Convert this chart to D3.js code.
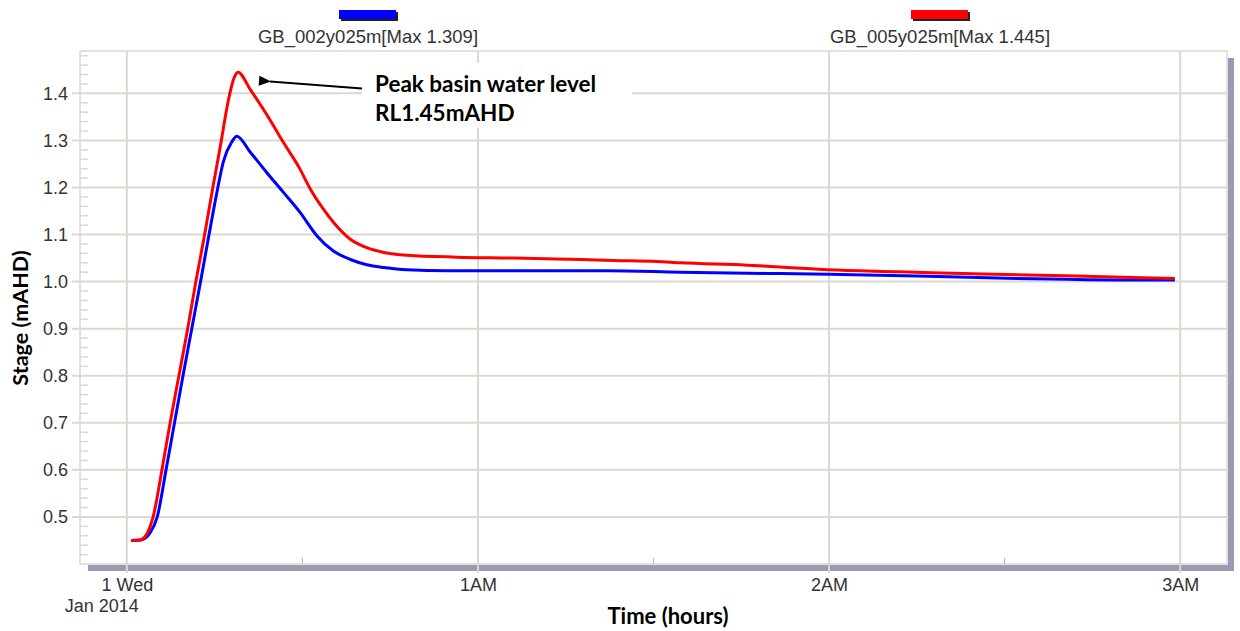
<!DOCTYPE html>
<html><head><meta charset="utf-8">
<script src="https://cdn.jsdelivr.net/npm/d3@7"></script>
<style>body{margin:0;background:#fff}</style>
</head><body>
<svg id="c" width="1240" height="631"></svg>
<script>
// ---- data ----
const seriesNames = ["GB_002y025m[Max 1.309]", "GB_005y025m[Max 1.445]"];
const seriesColors = ["#0000ff", "#ff0000"];
// minutes after 1 Jan 2014 00:00
const blueMinutes = [0.8, 2.4, 3.9, 5.2, 6.7, 8.15, 9.6, 11.1, 12.6, 14.05, 15.4, 16.5, 17.9, 18.8, 21.1, 23.9, 26.8, 29.6, 32.5, 35.3, 38.2, 41.0, 43.9, 47.9, 54.7, 82.0, 94.6, 111.6, 120.0, 135.0, 150.4, 160.6, 173.2, 179.1];
const blueStage   = [0.450, 0.451, 0.465, 0.500, 0.600, 0.700, 0.800, 0.900, 1.000, 1.100, 1.190, 1.255, 1.296, 1.309, 1.275, 1.232, 1.189, 1.147, 1.097, 1.065, 1.047, 1.036, 1.030, 1.025, 1.023, 1.023, 1.020, 1.017, 1.0155, 1.012, 1.007, 1.005, 1.0035, 1.0035];
const redMinutes  = [0.7, 2.3, 3.6, 4.5, 6.0, 7.4, 8.9, 10.4, 11.8, 13.3, 14.7, 15.9, 17.4, 18.3, 19.0, 21.1, 23.9, 26.8, 29.6, 31.3, 33.6, 35.3, 38.2, 41.0, 43.9, 47.9, 56.4, 66.1, 73.5, 83.2, 90.6, 94.6, 106.0, 111.6, 119.8, 132.1, 146.3, 160.6, 172.0, 179.1];
const redStage    = [0.450, 0.451, 0.468, 0.500, 0.600, 0.700, 0.800, 0.900, 1.000, 1.100, 1.200, 1.282, 1.388, 1.432, 1.445, 1.408, 1.355, 1.295, 1.239, 1.198, 1.154, 1.126, 1.090, 1.072, 1.062, 1.056, 1.052, 1.050, 1.048, 1.045, 1.043, 1.040, 1.035, 1.031, 1.025, 1.021, 1.016, 1.0125, 1.009, 1.0065];
const yTicks = [0.5, 0.6, 0.7, 0.8, 0.9, 1.0, 1.1, 1.2, 1.3, 1.4];
const xTickHours = [0, 1, 2, 3];
const xTickLabels = ["1 Wed", "1AM", "2AM", "3AM"];
const xMinorHours = [0.5, 1.5, 2.5];
const xSubLabel = "Jan 2014";
const yTitle = "Stage (mAHD)";
const xTitle = "Time (hours)";
const noteLines = ["Peak basin water level", "RL1.45mAHD"];

// ---- layout ----
const L = 80, R = 1227, T = 51, B = 564;
const t0 = new Date(2014, 0, 1, 0, 0, 0);
const toDate = m => new Date(t0.getTime() + m * 60000);
const svg = d3.select("#c");
const x = d3.scaleTime().domain([toDate(-8), toDate(188)]).range([L, R]);
const y = d3.scaleLinear().domain([0.40, 1.49]).range([B, T]);

const gridCol = "#d9d9d1";
const shadowCol = "#9a9ab2";
const textCol = "#333333";

// shadow
svg.append("rect").attr("x", L + 8).attr("y", B + 1).attr("width", R - L - 1).attr("height", 6).attr("fill", shadowCol);
svg.append("rect").attr("x", R + 1).attr("y", T + 7).attr("width", 6).attr("height", B - T).attr("fill", shadowCol);
// plot background + frame
svg.append("rect").attr("x", L).attr("y", T).attr("width", R - L).attr("height", B - T)
  .attr("fill", "#fff").attr("stroke", gridCol).attr("stroke-width", 1.5);

// horizontal grid
svg.append("g").selectAll("line").data(yTicks).join("line")
  .attr("x1", L - 8).attr("x2", R).attr("y1", d => y(d)).attr("y2", d => y(d))
  .attr("stroke", gridCol).attr("stroke-width", 2);
// minor y ticks
const yMinor = d3.range(21, 75).map(i => i * 0.02).filter(v => Math.abs(v * 10 - Math.round(v * 10)) > 1e-6);
svg.append("g").selectAll("line").data(yMinor).join("line")
  .attr("x1", L).attr("x2", L + 8).attr("y1", d => y(d)).attr("y2", d => y(d))
  .attr("stroke", gridCol).attr("stroke-width", 1.5);
// vertical grid
svg.append("g").selectAll("line").data(xTickHours).join("line")
  .attr("x1", d => x(toDate(d * 60))).attr("x2", d => x(toDate(d * 60)))
  .attr("y1", T).attr("y2", B + 9)
  .attr("stroke", gridCol).attr("stroke-width", 2);
svg.append("g").selectAll("line").data(xMinorHours).join("line")
  .attr("x1", d => x(toDate(d * 60))).attr("x2", d => x(toDate(d * 60)))
  .attr("y1", B - 6).attr("y2", B)
  .attr("stroke", "#bbbbb4").attr("stroke-width", 1.2);

// y axis labels
const yAxis = svg.append("g").attr("transform", `translate(${L},0)`)
  .call(d3.axisLeft(y).tickValues(yTicks).tickFormat(d3.format(".1f")).tickSize(0).tickPadding(12));
yAxis.select(".domain").remove();
yAxis.selectAll("text").attr("font-family", "Liberation Sans, Arial, sans-serif").attr("font-size", 18).attr("fill", textCol);

// x axis labels
const xAxis = svg.append("g").attr("transform", `translate(0,${B})`)
  .call(d3.axisBottom(x).tickValues(xTickHours.map(h => toDate(h * 60)))
    .tickFormat((d, i) => xTickLabels[i]).tickSize(0).tickPadding(14));
xAxis.select(".domain").remove();
xAxis.selectAll("text").attr("font-family", "Liberation Sans, Arial, sans-serif").attr("font-size", 18).attr("fill", textCol);
svg.append("text").attr("x", x(toDate(0)) - 25).attr("y", 612).attr("text-anchor", "middle")
  .attr("font-family", "Liberation Sans, Arial, sans-serif").attr("font-size", 18).attr("fill", textCol).text(xSubLabel);

// lines
const line = d3.line().x(d => x(toDate(d[0]))).y(d => y(d[1])).curve(d3.curveMonotoneX);
const blue = d3.zip(blueMinutes, blueStage);
const red = d3.zip(redMinutes, redStage);
[blue, red].forEach((s, i) => {
  svg.append("path").datum(s).attr("d", line).attr("fill", "none")
    .attr("stroke", seriesColors[i]).attr("stroke-width", 3).attr("stroke-linejoin", "round");
});

// legend
const legX = [368, 940];
seriesNames.forEach((n, i) => {
  svg.append("rect").attr("x", legX[i] - 27).attr("y", 12).attr("width", 57).attr("height", 9).attr("fill", "#222");
  svg.append("rect").attr("x", legX[i] - 29).attr("y", 10).attr("width", 57).attr("height", 9).attr("fill", seriesColors[i]);
  svg.append("text").attr("x", legX[i]).attr("y", 43).attr("text-anchor", "middle")
    .attr("font-family", "Liberation Sans, Arial, sans-serif").attr("font-size", 18.5).attr("fill", textCol).text(n);
});

// annotation
svg.append("rect").attr("x", 362).attr("y", 63).attr("width", 270).attr("height", 65).attr("fill", "#fff");
svg.append("defs").append("marker").attr("id", "ah").attr("viewBox", "0 0 12 10").attr("refX", 1).attr("refY", 5)
  .attr("markerWidth", 7).attr("markerHeight", 5).attr("orient", "auto")
  .append("path").attr("d", "M0,5 L12,0 L12,10 Z").attr("fill", "#000");
svg.append("line").attr("x1", 362).attr("y1", 88.5).attr("x2", 270).attr("y2", 81.5)
  .attr("stroke", "#000").attr("stroke-width", 2).attr("marker-end", "url(#ah)");
noteLines.forEach((t, i) => {
  svg.append("text").attr("x", 375).attr("y", 92 + i * 29)
    .attr("font-family", "Lato, sans-serif").attr("font-weight", "bold").attr("font-size", 22.5).attr("fill", "#000").text(t);
});

// axis titles
svg.append("text").attr("transform", `translate(28,318) rotate(-90)`).attr("text-anchor", "middle")
  .attr("font-family", "Lato, sans-serif").attr("font-weight", "bold").attr("font-size", 21.5).attr("fill", "#000").text(yTitle);
svg.append("text").attr("x", 668).attr("y", 624).attr("text-anchor", "middle")
  .attr("font-family", "Lato, sans-serif").attr("font-weight", "bold").attr("font-size", 22).attr("fill", "#000").text(xTitle);
</script>
</body></html>
